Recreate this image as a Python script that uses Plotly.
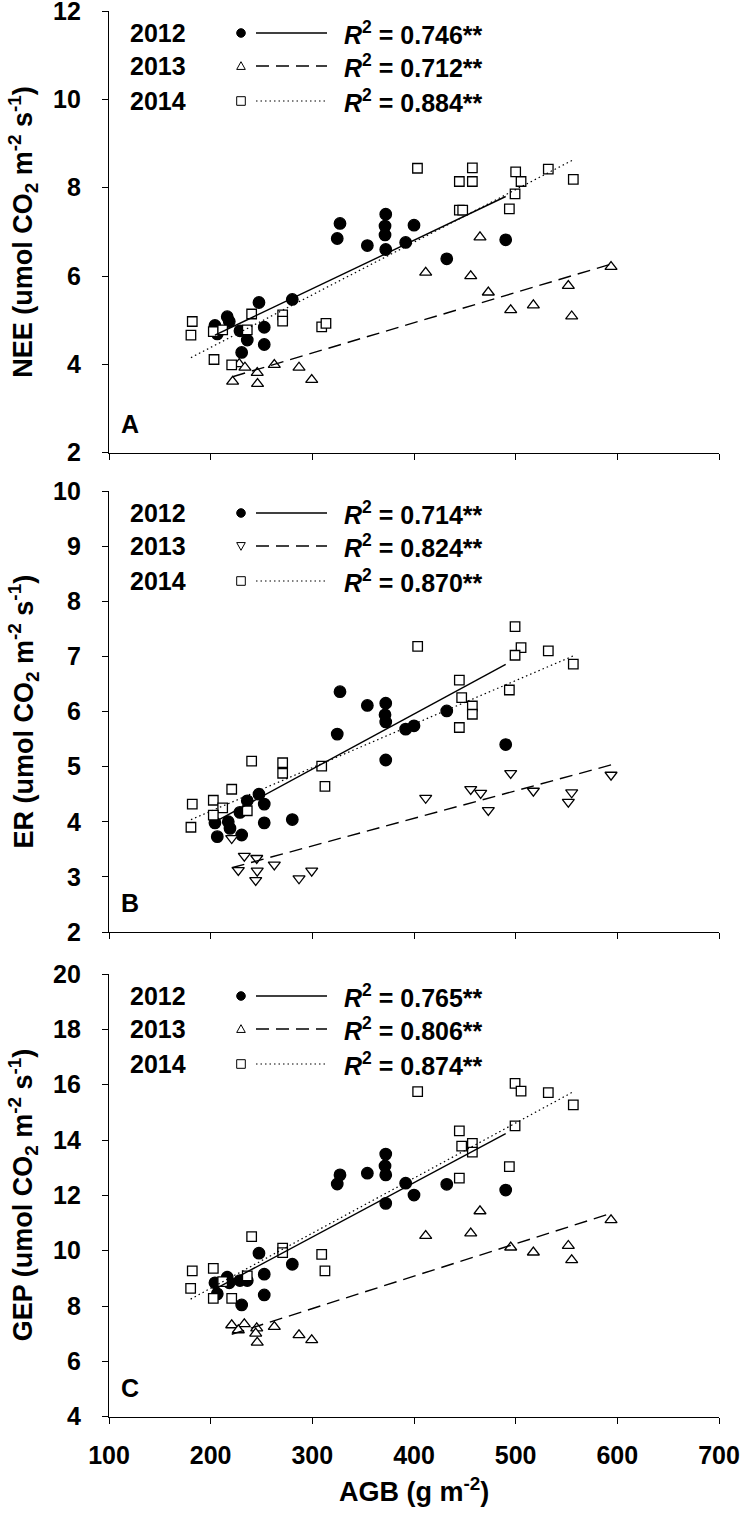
import numpy as np
import plotly.graph_objects as go

# ---------------- data ----------------
years = ["2012", "2013", "2014"]
panel_letters = ["A", "B", "C"]
y_titles = ["NEE (umol CO<sub>2</sub> m<sup>-2</sup> s<sup>-1</sup>)",
            "ER (umol CO<sub>2</sub> m<sup>-2</sup> s<sup>-1</sup>)",
            "GEP (umol CO<sub>2</sub> m<sup>-2</sup> s<sup>-1</sup>)"]
x_title = "AGB (g m<sup>-2</sup>)"
r2_nee = ["0.746", "0.712", "0.884"]
r2_er = ["0.714", "0.824", "0.870"]
r2_gep = ["0.765", "0.806", "0.874"]
x_ticks = [100, 200, 300, 400, 500, 600, 700]

# Panel A: NEE
nee_2012_x = [327.2, 324.5, 354.1, 372.2, 371.5, 371.5, 372.2, 400.0, 391.8, 280.3, 247.5,
              216.3, 218.3, 204.2, 206.5, 228.8, 236.0, 252.7, 252.7, 230.5, 432.2, 490.2]
nee_2012_y = [7.19, 6.85, 6.69, 7.40, 7.13, 6.93, 6.60, 7.15, 6.76, 5.47, 5.40,
              5.08, 4.97, 4.88, 4.69, 4.76, 4.55, 4.84, 4.45, 4.27, 6.39, 6.82]
nee_2013_x = [411.5, 221.6, 228.1, 233.7, 245.8, 246.1, 262.6, 286.9, 299.4, 464.9, 455.8,
              473.1, 495.1, 517.4, 551.8, 555.1, 593.8]
nee_2013_y = [6.08, 3.61, 4.01, 3.93, 3.81, 3.56, 3.99, 3.93, 3.65, 6.88, 6.00,
              5.63, 5.23, 5.34, 5.78, 5.09, 6.21]
nee_2014_x = [181.9, 180.6, 202.6, 211.8, 203.3, 220.7, 240.3, 236.0, 270.8, 270.8, 309.2, 313.4,
              403.4, 457.4, 444.6, 457.4, 444.6, 447.9, 500.0, 505.3, 499.4, 493.8, 532.1, 556.7]
nee_2014_y = [4.97, 4.66, 4.74, 4.78, 4.11, 3.99, 5.14, 4.78, 5.12, 4.98, 4.85, 4.93,
              8.44, 8.45, 8.14, 8.14, 7.49, 7.49, 8.36, 8.14, 7.86, 7.52, 8.42, 8.19]

# Panel B: ER
er_2012_x = [327.2, 324.5, 354.1, 372.2, 371.5, 372.2, 372.2, 391.8, 400.0, 247.5, 236.0,
             252.7, 228.8, 204.2, 217.3, 219.0, 206.5, 230.5, 252.7, 280.3, 432.2, 490.2]
er_2012_y = [6.36, 5.59, 6.11, 6.15, 5.94, 5.81, 5.12, 5.68, 5.74, 4.50, 4.38,
             4.32, 4.17, 3.98, 4.00, 3.88, 3.73, 3.76, 3.98, 4.04, 6.01, 5.40]
er_2013_x = [220.7, 233.1, 245.3, 227.2, 245.8, 244.3, 262.6, 286.9, 299.4, 411.5, 495.1,
             455.8, 465.6, 473.1, 517.4, 555.1, 551.8, 593.8]
er_2013_y = [3.70, 3.38, 3.34, 3.12, 3.11, 2.94, 3.22, 2.97, 3.11, 4.43, 4.88,
             4.59, 4.52, 4.21, 4.56, 4.53, 4.36, 4.85]
er_2014_x = [403.6, 240.3, 270.8, 270.8, 309.2, 312.4, 220.7, 202.6, 211.8, 181.9, 202.6, 236.0,
             180.6, 499.4, 505.3, 499.4, 532.1, 556.7, 444.6, 446.9, 457.4, 457.4, 493.8, 444.6]
er_2014_y = [7.18, 5.10, 5.07, 4.88, 5.01, 4.64, 4.59, 4.39, 4.25, 4.32, 4.12, 4.20,
             3.90, 7.54, 7.16, 7.02, 7.10, 6.86, 6.57, 6.25, 6.10, 5.95, 6.39, 5.71]

# Panel C: GEP
gep_2012_x = [372.2, 371.5, 372.2, 372.2, 327.2, 324.5, 354.1, 391.8, 400.0, 247.5, 280.3,
              252.7, 252.7, 230.5, 228.8, 236.0, 216.3, 218.3, 204.2, 206.5, 432.2, 490.2]
gep_2012_y = [13.49, 13.06, 12.74, 11.71, 12.74, 12.41, 12.80, 12.44, 12.01, 9.91, 9.51,
              9.15, 8.40, 8.04, 8.92, 8.92, 9.04, 8.84, 8.84, 8.44, 12.40, 12.19]
gep_2013_x = [220.7, 233.1, 227.2, 245.3, 244.3, 245.8, 262.6, 286.9, 299.4, 411.5, 464.9,
              455.8, 495.1, 517.4, 551.8, 555.1, 593.8]
gep_2013_y = [7.31, 7.35, 7.13, 7.20, 7.01, 6.68, 7.25, 6.95, 6.77, 10.54, 11.43,
              10.63, 10.12, 9.94, 10.18, 9.66, 11.11]
gep_2014_x = [403.6, 240.3, 202.6, 181.9, 180.3, 202.6, 211.8, 220.7, 236.0, 270.8, 270.8, 309.2,
              312.4, 499.4, 505.3, 532.1, 556.7, 499.4, 444.6, 446.9, 457.4, 457.4, 493.8, 444.6]
gep_2014_y = [15.75, 10.51, 9.36, 9.27, 8.64, 8.28, 8.88, 8.28, 9.09, 10.09, 9.93, 9.87,
              9.27, 16.05, 15.77, 15.71, 15.27, 14.51, 14.33, 13.78, 13.88, 13.56, 13.04, 12.62]

# regression lines: intercept, slope (per year)
nee_fit_intercept = [2.418, 2.202, 2.001]
nee_fit_slope = [0.01098, 0.00685, 0.01191]
er_fit_intercept = [1.955, 2.062, 2.611]
er_fit_slope = [0.0100, 0.0050, 0.0079]
gep_fit_intercept = [4.60, 4.395, 4.66]
gep_fit_slope = [0.01965, 0.01171, 0.01991]

y_ranges = [[2, 12], [2, 10], [4, 20]]
y_dticks = [2, 1, 2]

# ---------------- layout geometry (pixels) ----------------
W, H = 742, 1517
ML, MR, MT, MB = 109, 23, 11, 100
PW, PH = W - ML - MR, H - MT - MB
panel_top = [11, 491, 974]
panel_bot = [452.7, 932, 1416.7]


def fx(px):
    return (px - ML) / PW


def fy(py):
    return 1 - (py - MT) / PH


FONT = "Liberation Sans, Arial, sans-serif"
FS_TICK = 25
FS_TITLE = 27
FS_LEG = 25

panels = [
    dict(xs=[nee_2012_x, nee_2013_x, nee_2014_x], ys=[nee_2012_y, nee_2013_y, nee_2014_y],
         b0=nee_fit_intercept, b1=nee_fit_slope, r2=r2_nee, sym13="triangle-up"),
    dict(xs=[er_2012_x, er_2013_x, er_2014_x], ys=[er_2012_y, er_2013_y, er_2014_y],
         b0=er_fit_intercept, b1=er_fit_slope, r2=r2_er, sym13="triangle-down"),
    dict(xs=[gep_2012_x, gep_2013_x, gep_2014_x], ys=[gep_2012_y, gep_2013_y, gep_2014_y],
         b0=gep_fit_intercept, b1=gep_fit_slope, r2=r2_gep, sym13="triangle-up"),
]

line_styles = [dict(dash="solid", width=1.4),
               dict(dash="13px,7px", width=1.4),
               dict(dash="1.5px,3px", width=1.2)]

fig = go.Figure()
annotations = []
shapes = []

for i, p in enumerate(panels):
    xa = "x" if i == 0 else f"x{i + 1}"
    ya = "y" if i == 0 else f"y{i + 1}"
    symbols = ["circle", p["sym13"], "square"]
    sizes = [11.5, 10.5, 9.5]
    fills = ["black", "white", "white"]
    for k in range(3):
        fig.add_trace(go.Scatter(
            x=p["xs"][k], y=p["ys"][k], mode="markers", xaxis=xa, yaxis=ya,
            marker=dict(symbol=symbols[k], size=sizes[k], color=fills[k],
                        line=dict(color="black", width=1.3)),
            showlegend=False, hoverinfo="x+y"))
    for k in range(3):
        xr = np.array([min(p["xs"][k]), max(p["xs"][k])])
        yr = p["b0"][k] + p["b1"][k] * xr
        fig.add_trace(go.Scatter(
            x=xr, y=yr, mode="lines", xaxis=xa, yaxis=ya,
            line=dict(color="black", **line_styles[k]),
            showlegend=False, hoverinfo="skip"))

    top, bot = panel_top[i], panel_bot[i]
    annotations.append(dict(
        text="<b>" + y_titles[i] + "</b>", xref="paper", yref="paper",
        x=fx(23), y=fy((top + bot) / 2), textangle=-90, showarrow=False,
        xanchor="center", yanchor="middle", font=dict(family=FONT, size=FS_TITLE, color="black")))
    annotations.append(dict(
        text="<b>" + panel_letters[i] + "</b>", xref="paper", yref="paper",
        x=fx(130), y=fy(bot - 29), showarrow=False, xanchor="center", yanchor="middle",
        font=dict(family=FONT, size=FS_LEG, color="black")))
    row_off = [22, 55, 90]
    for k in range(3):
        ry = top + row_off[k]
        annotations.append(dict(
            text="<b>" + years[k] + "</b>", xref="paper", yref="paper",
            x=fx(158), y=fy(ry), showarrow=False, xanchor="center", yanchor="middle",
            font=dict(family=FONT, size=FS_LEG, color="black")))
        annotations.append(dict(
            text="<b><i>R</i><sup>2</sup> = " + p["r2"][k] + "**</b>", xref="paper", yref="paper",
            x=fx(342), y=fy(ry), showarrow=False, xanchor="left", yanchor="middle",
            font=dict(family=FONT, size=FS_LEG, color="black")))
        shapes.append(dict(type="line", xref="paper", yref="paper",
                           x0=fx(256), x1=fx(327), y0=fy(ry), y1=fy(ry),
                           line=dict(color="black", width=line_styles[k]["width"],
                                     dash=line_styles[k]["dash"])))
        cx, cy, r = 241, ry, 4.3
        if k == 0:
            shapes.append(dict(type="circle", xref="paper", yref="paper",
                               x0=fx(cx - r), x1=fx(cx + r), y0=fy(cy + r), y1=fy(cy - r),
                               fillcolor="black", line=dict(color="black", width=1)))
        elif k == 1:
            if p["sym13"] == "triangle-up":
                pts = [(cx - r, cy + r * 0.8), (cx + r, cy + r * 0.8), (cx, cy - r)]
            else:
                pts = [(cx - r, cy - r * 0.8), (cx + r, cy - r * 0.8), (cx, cy + r)]
            path = "M " + " L ".join(f"{fx(a):.5f},{fy(b):.5f}" for a, b in pts) + " Z"
            shapes.append(dict(type="path", xref="paper", yref="paper", path=path,
                               fillcolor="white", line=dict(color="black", width=1)))
        else:
            shapes.append(dict(type="rect", xref="paper", yref="paper",
                               x0=fx(cx - r), x1=fx(cx + r), y0=fy(cy + r), y1=fy(cy - r),
                               fillcolor="white", line=dict(color="black", width=1)))

annotations.append(dict(
    text="<b>" + x_title + "</b>", xref="paper", yref="paper",
    x=fx(414), y=fy(1490), showarrow=False, xanchor="center", yanchor="middle",
    font=dict(family=FONT, size=FS_TITLE, color="black")))

axis_common = dict(showline=True, linecolor="black", linewidth=1.3, ticks="outside",
                   ticklen=6, tickwidth=1.3, tickcolor="black", showgrid=False,
                   zeroline=False, mirror=False, ticklabeloverflow="allow",
                   tickfont=dict(family=FONT, size=FS_TICK, color="black", weight="bold"))

layout = dict(width=W, height=H, margin=dict(l=ML, r=MR, t=MT, b=MB, autoexpand=False),
              plot_bgcolor="white", paper_bgcolor="white", showlegend=False,
              annotations=annotations, shapes=shapes)

for i in range(3):
    top, bot = panel_top[i], panel_bot[i]
    xname = "xaxis" if i == 0 else f"xaxis{i + 1}"
    yname = "yaxis" if i == 0 else f"yaxis{i + 1}"
    ya = "y" if i == 0 else f"y{i + 1}"
    xa = "x" if i == 0 else f"x{i + 1}"
    layout[xname] = dict(axis_common, domain=[0, 1], anchor=ya, range=[100, 700],
                         tickvals=x_ticks, showticklabels=(i == 2), ticklabelstandoff=10)
    layout[yname] = dict(axis_common, domain=[fy(bot), fy(top)], anchor=xa,
                         range=y_ranges[i], dtick=y_dticks[i], ticklabelstandoff=16)

fig.update_layout(**layout)
fig.write_html("out.html", config={"displayModeBar": False},
               post_script="document.body.style.margin='0';document.body.style.overflow='hidden';")
